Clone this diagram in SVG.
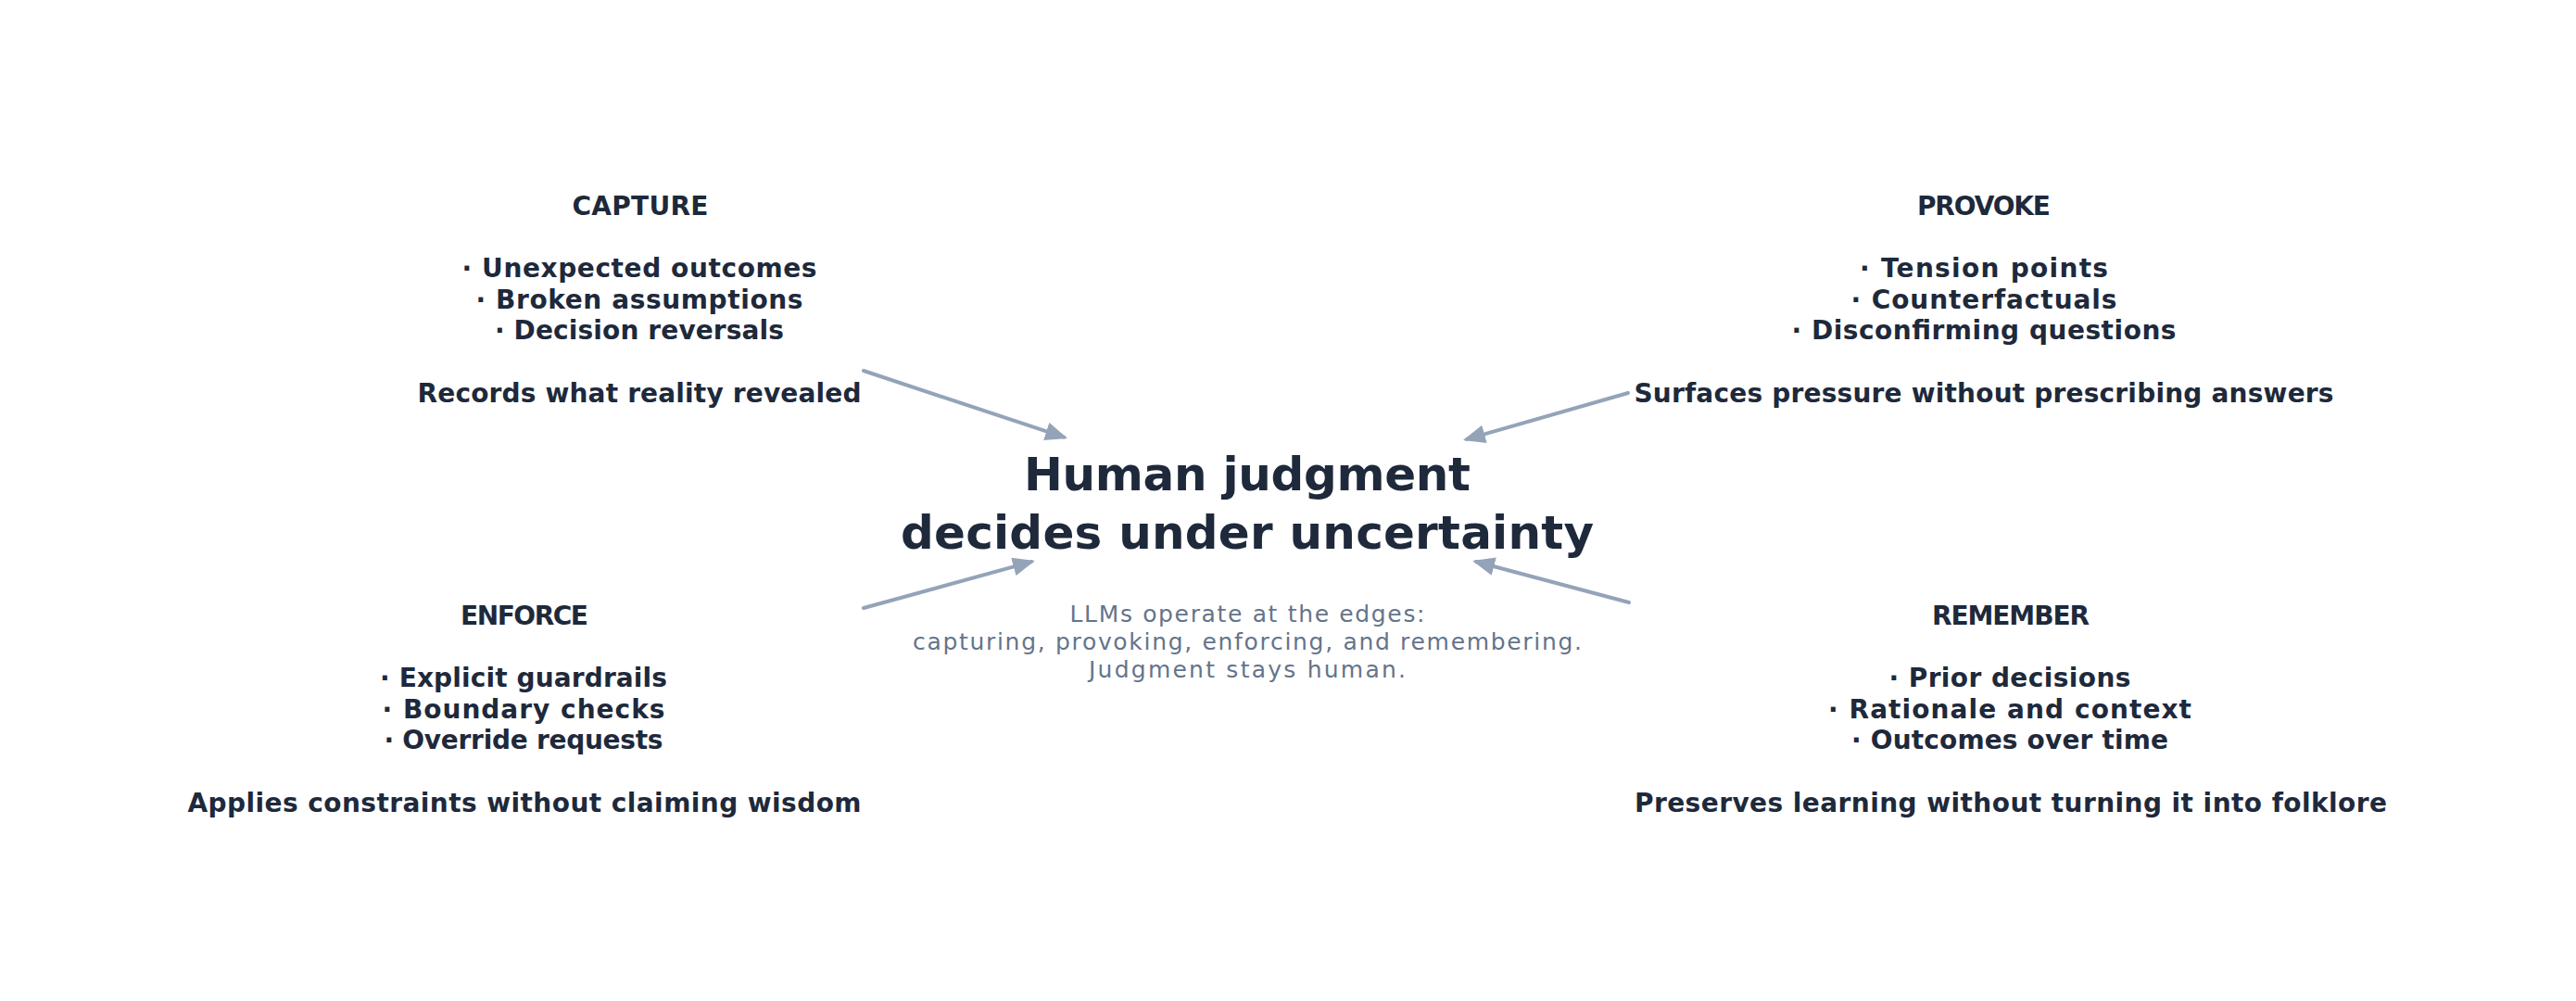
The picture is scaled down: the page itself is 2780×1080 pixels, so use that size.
<svg xmlns="http://www.w3.org/2000/svg" width="2780" height="1080" viewBox="0 0 2780 1080">
<style>
.t{font-family:"DejaVu Sans","Liberation Sans",sans-serif;font-weight:bold;font-size:28px;fill:#1e293b;text-anchor:middle}
.title{font-family:"DejaVu Sans","Liberation Sans",sans-serif;font-weight:bold;font-size:50px;fill:#1e293b;text-anchor:middle}
.sub{font-family:"DejaVu Sans","Liberation Sans",sans-serif;font-size:25px;fill:#64748b;text-anchor:middle}
.c{fill:none;stroke:#94a3b8;stroke-width:4;stroke-linecap:round}
</style>
<defs>
<marker id="ah" viewBox="0 0 24 20" refX="20" refY="10" markerWidth="24" markerHeight="20" markerUnits="userSpaceOnUse" orient="auto">
<path d="M0,0 L24,10 L0,20 z" fill="#94a3b8"/>
</marker>
</defs>
<rect width="2780" height="1080" fill="#ffffff"/>
<g id="connectors">
<path class="c" d="M932,400 L1148.2,471.7" marker-end="url(#ah)"/>
<path class="c" d="M1757,424 L1582.8,473.9" marker-end="url(#ah)"/>
<path class="c" d="M932,656 L1113.1,606.1" marker-end="url(#ah)"/>
<path class="c" d="M1758,650 L1592.9,606" marker-end="url(#ah)"/>
</g>
<g id="capture">
<text class="t" x="691" y="232" textLength="147">CAPTURE</text>
<text class="t" x="690" y="299" textLength="383">· Unexpected outcomes</text>
<text class="t" x="690" y="333" textLength="353">· Broken assumptions</text>
<text class="t" x="690" y="366" textLength="312">· Decision reversals</text>
<text class="t" x="690" y="434" textLength="479">Records what reality revealed</text>
</g>
<g id="provoke">
<text class="t" x="2141" y="232" textLength="144">PROVOKE</text>
<text class="t" x="2141" y="299" textLength="268">· Tension points</text>
<text class="t" x="2141" y="333" textLength="287">· Counterfactuals</text>
<text class="t" x="2141" y="366" textLength="415">· Disconfirming questions</text>
<text class="t" x="2141" y="434" textLength="755">Surfaces pressure without prescribing answers</text>
</g>
<g id="enforce">
<text class="t" x="566" y="674" textLength="138">ENFORCE</text>
<text class="t" x="565" y="741" textLength="310">· Explicit guardrails</text>
<text class="t" x="565" y="775" textLength="305">· Boundary checks</text>
<text class="t" x="565" y="808" textLength="301">· Override requests</text>
<text class="t" x="566" y="876" textLength="727">Applies constraints without claiming wisdom</text>
</g>
<g id="remember">
<text class="t" x="2170" y="674" textLength="170">REMEMBER</text>
<text class="t" x="2169" y="741" textLength="261">· Prior decisions</text>
<text class="t" x="2169" y="775" textLength="392">· Rationale and context</text>
<text class="t" x="2169" y="808" textLength="342">· Outcomes over time</text>
<text class="t" x="2170" y="876" textLength="812">Preserves learning without turning it into folklore</text>
</g>
<g id="center">
<text class="title" x="1346" y="529" textLength="482">Human judgment</text>
<text class="title" x="1346" y="592" textLength="748">decides under uncertainty</text>
<text class="sub" x="1346" y="671" textLength="383">LLMs operate at the edges:</text>
<text class="sub" x="1346" y="701" textLength="722">capturing, provoking, enforcing, and remembering.</text>
<text class="sub" x="1346" y="731" textLength="342">Judgment stays human.</text>
</g>
</svg>
